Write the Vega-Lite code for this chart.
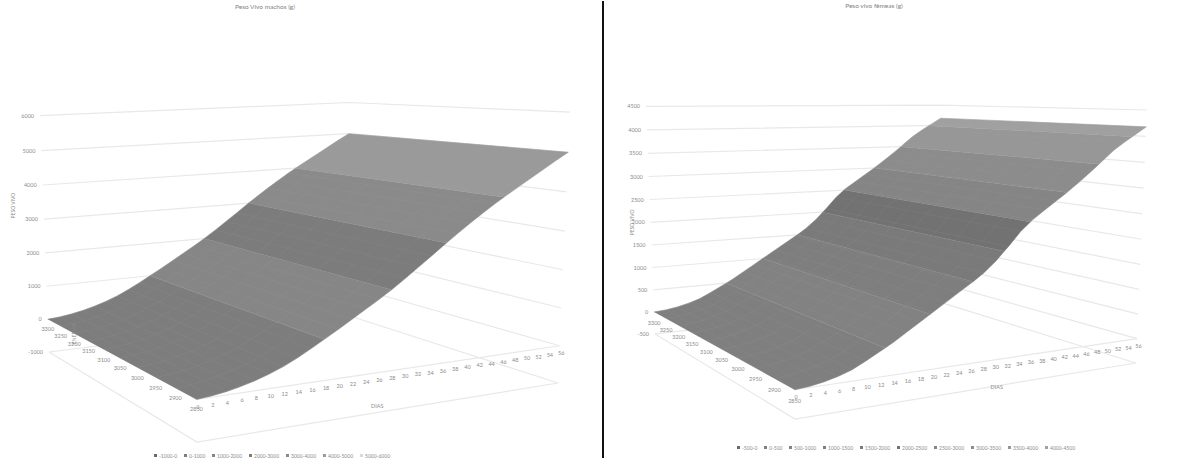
{"$schema":"https://vega.github.io/schema/vega-lite/v6.json","padding":0,"spacing":0,"background":"white","config":{"view":{"stroke":null},"text":{"font":"Lato"}},
"resolve":{"scale":{"fill":"independent","stroke":"independent"},"legend":{"fill":"independent","stroke":"independent"}},
"datasets":{
"machos":[
{"tipo":"curva","dias":0,"peso":0,"faixa":["0-1000"]},{"tipo":"curva","dias":2,"peso":30,"faixa":["0-1000"]},{"tipo":"curva","dias":4,"peso":80,"faixa":["0-1000"]},{"tipo":"curva","dias":6,"peso":150,"faixa":["0-1000"]},{"tipo":"curva","dias":8,"peso":240,"faixa":["0-1000"]},{"tipo":"curva","dias":10,"peso":350,"faixa":["0-1000"]},{"tipo":"curva","dias":12,"peso":480,"faixa":["0-1000"]},{"tipo":"curva","dias":14,"peso":640,"faixa":["0-1000"]},{"tipo":"curva","dias":16,"peso":820,"faixa":["0-1000"]},{"tipo":"curva","dias":17.9,"peso":1000,"faixa":["0-1000","1000-2000"]},{"tipo":"curva","dias":20,"peso":1200,"faixa":["1000-2000"]},{"tipo":"curva","dias":22,"peso":1400,"faixa":["1000-2000"]},{"tipo":"curva","dias":24,"peso":1600,"faixa":["1000-2000"]},{"tipo":"curva","dias":26,"peso":1800,"faixa":["1000-2000"]},{"tipo":"curva","dias":27.9,"peso":2000,"faixa":["1000-2000","2000-3000"]},{"tipo":"curva","dias":30,"peso":2240,"faixa":["2000-3000"]},{"tipo":"curva","dias":32,"peso":2480,"faixa":["2000-3000"]},{"tipo":"curva","dias":34,"peso":2720,"faixa":["2000-3000"]},{"tipo":"curva","dias":36.3,"peso":3000,"faixa":["2000-3000","3000-4000"]},{"tipo":"curva","dias":38,"peso":3200,"faixa":["3000-4000"]},{"tipo":"curva","dias":40,"peso":3430,"faixa":["3000-4000"]},{"tipo":"curva","dias":42,"peso":3650,"faixa":["3000-4000"]},{"tipo":"curva","dias":44,"peso":3860,"faixa":["3000-4000"]},{"tipo":"curva","dias":45.4,"peso":4000,"faixa":["3000-4000","4000-5000"]},{"tipo":"curva","dias":46,"peso":4060,"faixa":["4000-5000"]},{"tipo":"curva","dias":48,"peso":4250,"faixa":["4000-5000"]},{"tipo":"curva","dias":50,"peso":4440,"faixa":["4000-5000"]},{"tipo":"curva","dias":52,"peso":4630,"faixa":["4000-5000"]},{"tipo":"curva","dias":54,"peso":4820,"faixa":["4000-5000"]},{"tipo":"curva","dias":56,"peso":5000,"faixa":["4000-5000"]},
{"tipo":"grade","linha":"n-1000","ordem":1,"dias":0,"energia":3300,"peso":-1000},{"tipo":"grade","linha":"n-1000","ordem":2,"dias":56,"energia":3300,"peso":-1000},{"tipo":"grade","linha":"n-1000","ordem":3,"dias":56,"energia":2850,"peso":-1000},
{"tipo":"grade","linha":"n0","ordem":1,"dias":0,"energia":3300,"peso":0},{"tipo":"grade","linha":"n0","ordem":2,"dias":56,"energia":3300,"peso":0},{"tipo":"grade","linha":"n0","ordem":3,"dias":56,"energia":2850,"peso":0},
{"tipo":"grade","linha":"n1000","ordem":1,"dias":0,"energia":3300,"peso":1000},{"tipo":"grade","linha":"n1000","ordem":2,"dias":56,"energia":3300,"peso":1000},{"tipo":"grade","linha":"n1000","ordem":3,"dias":56,"energia":2850,"peso":1000},
{"tipo":"grade","linha":"n2000","ordem":1,"dias":0,"energia":3300,"peso":2000},{"tipo":"grade","linha":"n2000","ordem":2,"dias":56,"energia":3300,"peso":2000},{"tipo":"grade","linha":"n2000","ordem":3,"dias":56,"energia":2850,"peso":2000},
{"tipo":"grade","linha":"n3000","ordem":1,"dias":0,"energia":3300,"peso":3000},{"tipo":"grade","linha":"n3000","ordem":2,"dias":56,"energia":3300,"peso":3000},{"tipo":"grade","linha":"n3000","ordem":3,"dias":56,"energia":2850,"peso":3000},
{"tipo":"grade","linha":"n4000","ordem":1,"dias":0,"energia":3300,"peso":4000},{"tipo":"grade","linha":"n4000","ordem":2,"dias":56,"energia":3300,"peso":4000},{"tipo":"grade","linha":"n4000","ordem":3,"dias":56,"energia":2850,"peso":4000},
{"tipo":"grade","linha":"n5000","ordem":1,"dias":0,"energia":3300,"peso":5000},{"tipo":"grade","linha":"n5000","ordem":2,"dias":56,"energia":3300,"peso":5000},{"tipo":"grade","linha":"n5000","ordem":3,"dias":56,"energia":2850,"peso":5000},
{"tipo":"grade","linha":"n6000","ordem":1,"dias":0,"energia":3300,"peso":6000},{"tipo":"grade","linha":"n6000","ordem":2,"dias":56,"energia":3300,"peso":6000},{"tipo":"grade","linha":"n6000","ordem":3,"dias":56,"energia":2850,"peso":6000},
{"tipo":"grade","linha":"piso","ordem":1,"dias":0,"energia":3300,"peso":-1000},{"tipo":"grade","linha":"piso","ordem":2,"dias":0,"energia":2850,"peso":-1000},{"tipo":"grade","linha":"piso","ordem":3,"dias":56,"energia":2850,"peso":-1000},
{"tipo":"grade","linha":"base","ordem":1,"dias":0,"energia":2850,"peso":0},{"tipo":"grade","linha":"base","ordem":2,"dias":56,"energia":2850,"peso":0},
{"tipo":"dia","dias":0,"energia":2850,"peso":0},{"tipo":"dia","dias":2,"energia":2850,"peso":0},{"tipo":"dia","dias":4,"energia":2850,"peso":0},{"tipo":"dia","dias":6,"energia":2850,"peso":0},{"tipo":"dia","dias":8,"energia":2850,"peso":0},{"tipo":"dia","dias":10,"energia":2850,"peso":0},{"tipo":"dia","dias":12,"energia":2850,"peso":0},{"tipo":"dia","dias":14,"energia":2850,"peso":0},{"tipo":"dia","dias":16,"energia":2850,"peso":0},{"tipo":"dia","dias":18,"energia":2850,"peso":0},{"tipo":"dia","dias":20,"energia":2850,"peso":0},{"tipo":"dia","dias":22,"energia":2850,"peso":0},{"tipo":"dia","dias":24,"energia":2850,"peso":0},{"tipo":"dia","dias":26,"energia":2850,"peso":0},{"tipo":"dia","dias":28,"energia":2850,"peso":0},{"tipo":"dia","dias":30,"energia":2850,"peso":0},{"tipo":"dia","dias":32,"energia":2850,"peso":0},{"tipo":"dia","dias":34,"energia":2850,"peso":0},{"tipo":"dia","dias":36,"energia":2850,"peso":0},{"tipo":"dia","dias":38,"energia":2850,"peso":0},{"tipo":"dia","dias":40,"energia":2850,"peso":0},{"tipo":"dia","dias":42,"energia":2850,"peso":0},{"tipo":"dia","dias":44,"energia":2850,"peso":0},{"tipo":"dia","dias":46,"energia":2850,"peso":0},{"tipo":"dia","dias":48,"energia":2850,"peso":0},{"tipo":"dia","dias":50,"energia":2850,"peso":0},{"tipo":"dia","dias":52,"energia":2850,"peso":0},{"tipo":"dia","dias":54,"energia":2850,"peso":0},{"tipo":"dia","dias":56,"energia":2850,"peso":0},
{"tipo":"ene","dias":0,"energia":2850,"peso":0},{"tipo":"ene","dias":0,"energia":2900,"peso":0},{"tipo":"ene","dias":0,"energia":2950,"peso":0},{"tipo":"ene","dias":0,"energia":3000,"peso":0},{"tipo":"ene","dias":0,"energia":3050,"peso":0},{"tipo":"ene","dias":0,"energia":3100,"peso":0},{"tipo":"ene","dias":0,"energia":3150,"peso":0},{"tipo":"ene","dias":0,"energia":3200,"peso":0},{"tipo":"ene","dias":0,"energia":3250,"peso":0},{"tipo":"ene","dias":0,"energia":3300,"peso":0},
{"tipo":"pes","dias":0,"energia":3300,"peso":-1000},{"tipo":"pes","dias":0,"energia":3300,"peso":0},{"tipo":"pes","dias":0,"energia":3300,"peso":1000},{"tipo":"pes","dias":0,"energia":3300,"peso":2000},{"tipo":"pes","dias":0,"energia":3300,"peso":3000},{"tipo":"pes","dias":0,"energia":3300,"peso":4000},{"tipo":"pes","dias":0,"energia":3300,"peso":5000},{"tipo":"pes","dias":0,"energia":3300,"peso":6000},
{"tipo":"tituloPeso","texto":"PESO VIVO","dias":0,"energia":3300,"peso":3400},
{"tipo":"tituloDias","texto":"DIAS","dias":26,"energia":2850,"peso":-1000},
{"tipo":"tituloEne","texto":"ENERGIA","dias":0,"energia":3200,"peso":0}
],
"femeas":[
{"tipo":"curva","dias":0,"peso":0,"faixa":["0-500"]},{"tipo":"curva","dias":2,"peso":20,"faixa":["0-500"]},{"tipo":"curva","dias":4,"peso":60,"faixa":["0-500"]},{"tipo":"curva","dias":6,"peso":120,"faixa":["0-500"]},{"tipo":"curva","dias":8,"peso":200,"faixa":["0-500"]},{"tipo":"curva","dias":10,"peso":320,"faixa":["0-500"]},{"tipo":"curva","dias":12,"peso":450,"faixa":["0-500"]},{"tipo":"curva","dias":12.8,"peso":500,"faixa":["0-500","500-1000"]},{"tipo":"curva","dias":14,"peso":580,"faixa":["500-1000"]},{"tipo":"curva","dias":16,"peso":730,"faixa":["500-1000"]},{"tipo":"curva","dias":18,"peso":880,"faixa":["500-1000"]},{"tipo":"curva","dias":19.6,"peso":1000,"faixa":["500-1000","1000-1500"]},{"tipo":"curva","dias":20,"peso":1030,"faixa":["1000-1500"]},{"tipo":"curva","dias":22,"peso":1180,"faixa":["1000-1500"]},{"tipo":"curva","dias":24,"peso":1330,"faixa":["1000-1500"]},{"tipo":"curva","dias":26,"peso":1480,"faixa":["1000-1500"]},{"tipo":"curva","dias":26.3,"peso":1500,"faixa":["1000-1500","1500-2000"]},{"tipo":"curva","dias":28,"peso":1640,"faixa":["1500-2000"]},{"tipo":"curva","dias":30,"peso":1840,"faixa":["1500-2000"]},{"tipo":"curva","dias":31.3,"peso":2000,"faixa":["1500-2000","2000-2500"]},{"tipo":"curva","dias":32,"peso":2080,"faixa":["2000-2500"]},{"tipo":"curva","dias":34,"peso":2340,"faixa":["2000-2500"]},{"tipo":"curva","dias":35.6,"peso":2500,"faixa":["2000-2500","2500-3000"]},{"tipo":"curva","dias":36,"peso":2540,"faixa":["2500-3000"]},{"tipo":"curva","dias":38,"peso":2700,"faixa":["2500-3000"]},{"tipo":"curva","dias":40,"peso":2860,"faixa":["2500-3000"]},{"tipo":"curva","dias":41.8,"peso":3000,"faixa":["2500-3000","3000-3500"]},{"tipo":"curva","dias":42,"peso":3020,"faixa":["3000-3500"]},{"tipo":"curva","dias":44,"peso":3190,"faixa":["3000-3500"]},{"tipo":"curva","dias":46,"peso":3370,"faixa":["3000-3500"]},{"tipo":"curva","dias":47.4,"peso":3500,"faixa":["3000-3500","3500-4000"]},{"tipo":"curva","dias":48,"peso":3560,"faixa":["3500-4000"]},{"tipo":"curva","dias":50,"peso":3750,"faixa":["3500-4000"]},{"tipo":"curva","dias":52,"peso":3900,"faixa":["3500-4000"]},{"tipo":"curva","dias":53.4,"peso":4000,"faixa":["3500-4000","4000-4500"]},{"tipo":"curva","dias":54,"peso":4040,"faixa":["4000-4500"]},{"tipo":"curva","dias":56,"peso":4180,"faixa":["4000-4500"]},
{"tipo":"grade","linha":"n-500","ordem":1,"dias":0,"energia":3300,"peso":-500},{"tipo":"grade","linha":"n-500","ordem":2,"dias":56,"energia":3300,"peso":-500},{"tipo":"grade","linha":"n-500","ordem":3,"dias":56,"energia":2850,"peso":-500},
{"tipo":"grade","linha":"n0","ordem":1,"dias":0,"energia":3300,"peso":0},{"tipo":"grade","linha":"n0","ordem":2,"dias":56,"energia":3300,"peso":0},{"tipo":"grade","linha":"n0","ordem":3,"dias":56,"energia":2850,"peso":0},
{"tipo":"grade","linha":"n500","ordem":1,"dias":0,"energia":3300,"peso":500},{"tipo":"grade","linha":"n500","ordem":2,"dias":56,"energia":3300,"peso":500},{"tipo":"grade","linha":"n500","ordem":3,"dias":56,"energia":2850,"peso":500},
{"tipo":"grade","linha":"n1000","ordem":1,"dias":0,"energia":3300,"peso":1000},{"tipo":"grade","linha":"n1000","ordem":2,"dias":56,"energia":3300,"peso":1000},{"tipo":"grade","linha":"n1000","ordem":3,"dias":56,"energia":2850,"peso":1000},
{"tipo":"grade","linha":"n1500","ordem":1,"dias":0,"energia":3300,"peso":1500},{"tipo":"grade","linha":"n1500","ordem":2,"dias":56,"energia":3300,"peso":1500},{"tipo":"grade","linha":"n1500","ordem":3,"dias":56,"energia":2850,"peso":1500},
{"tipo":"grade","linha":"n2000","ordem":1,"dias":0,"energia":3300,"peso":2000},{"tipo":"grade","linha":"n2000","ordem":2,"dias":56,"energia":3300,"peso":2000},{"tipo":"grade","linha":"n2000","ordem":3,"dias":56,"energia":2850,"peso":2000},
{"tipo":"grade","linha":"n2500","ordem":1,"dias":0,"energia":3300,"peso":2500},{"tipo":"grade","linha":"n2500","ordem":2,"dias":56,"energia":3300,"peso":2500},{"tipo":"grade","linha":"n2500","ordem":3,"dias":56,"energia":2850,"peso":2500},
{"tipo":"grade","linha":"n3000","ordem":1,"dias":0,"energia":3300,"peso":3000},{"tipo":"grade","linha":"n3000","ordem":2,"dias":56,"energia":3300,"peso":3000},{"tipo":"grade","linha":"n3000","ordem":3,"dias":56,"energia":2850,"peso":3000},
{"tipo":"grade","linha":"n3500","ordem":1,"dias":0,"energia":3300,"peso":3500},{"tipo":"grade","linha":"n3500","ordem":2,"dias":56,"energia":3300,"peso":3500},{"tipo":"grade","linha":"n3500","ordem":3,"dias":56,"energia":2850,"peso":3500},
{"tipo":"grade","linha":"n4000","ordem":1,"dias":0,"energia":3300,"peso":4000},{"tipo":"grade","linha":"n4000","ordem":2,"dias":56,"energia":3300,"peso":4000},{"tipo":"grade","linha":"n4000","ordem":3,"dias":56,"energia":2850,"peso":4000},
{"tipo":"grade","linha":"n4500","ordem":1,"dias":0,"energia":3300,"peso":4500},{"tipo":"grade","linha":"n4500","ordem":2,"dias":56,"energia":3300,"peso":4500},{"tipo":"grade","linha":"n4500","ordem":3,"dias":56,"energia":2850,"peso":4500},
{"tipo":"grade","linha":"piso","ordem":1,"dias":0,"energia":3300,"peso":-500},{"tipo":"grade","linha":"piso","ordem":2,"dias":0,"energia":2850,"peso":-500},{"tipo":"grade","linha":"piso","ordem":3,"dias":56,"energia":2850,"peso":-500},
{"tipo":"grade","linha":"base","ordem":1,"dias":0,"energia":2850,"peso":0},{"tipo":"grade","linha":"base","ordem":2,"dias":56,"energia":2850,"peso":0},
{"tipo":"dia","dias":0,"energia":2850,"peso":0},{"tipo":"dia","dias":2,"energia":2850,"peso":0},{"tipo":"dia","dias":4,"energia":2850,"peso":0},{"tipo":"dia","dias":6,"energia":2850,"peso":0},{"tipo":"dia","dias":8,"energia":2850,"peso":0},{"tipo":"dia","dias":10,"energia":2850,"peso":0},{"tipo":"dia","dias":12,"energia":2850,"peso":0},{"tipo":"dia","dias":14,"energia":2850,"peso":0},{"tipo":"dia","dias":16,"energia":2850,"peso":0},{"tipo":"dia","dias":18,"energia":2850,"peso":0},{"tipo":"dia","dias":20,"energia":2850,"peso":0},{"tipo":"dia","dias":22,"energia":2850,"peso":0},{"tipo":"dia","dias":24,"energia":2850,"peso":0},{"tipo":"dia","dias":26,"energia":2850,"peso":0},{"tipo":"dia","dias":28,"energia":2850,"peso":0},{"tipo":"dia","dias":30,"energia":2850,"peso":0},{"tipo":"dia","dias":32,"energia":2850,"peso":0},{"tipo":"dia","dias":34,"energia":2850,"peso":0},{"tipo":"dia","dias":36,"energia":2850,"peso":0},{"tipo":"dia","dias":38,"energia":2850,"peso":0},{"tipo":"dia","dias":40,"energia":2850,"peso":0},{"tipo":"dia","dias":42,"energia":2850,"peso":0},{"tipo":"dia","dias":44,"energia":2850,"peso":0},{"tipo":"dia","dias":46,"energia":2850,"peso":0},{"tipo":"dia","dias":48,"energia":2850,"peso":0},{"tipo":"dia","dias":50,"energia":2850,"peso":0},{"tipo":"dia","dias":52,"energia":2850,"peso":0},{"tipo":"dia","dias":54,"energia":2850,"peso":0},{"tipo":"dia","dias":56,"energia":2850,"peso":0},
{"tipo":"ene","dias":0,"energia":2850,"peso":0},{"tipo":"ene","dias":0,"energia":2900,"peso":0},{"tipo":"ene","dias":0,"energia":2950,"peso":0},{"tipo":"ene","dias":0,"energia":3000,"peso":0},{"tipo":"ene","dias":0,"energia":3050,"peso":0},{"tipo":"ene","dias":0,"energia":3100,"peso":0},{"tipo":"ene","dias":0,"energia":3150,"peso":0},{"tipo":"ene","dias":0,"energia":3200,"peso":0},{"tipo":"ene","dias":0,"energia":3250,"peso":0},{"tipo":"ene","dias":0,"energia":3300,"peso":0},
{"tipo":"pes","dias":0,"energia":3300,"peso":-500},{"tipo":"pes","dias":0,"energia":3300,"peso":0},{"tipo":"pes","dias":0,"energia":3300,"peso":500},{"tipo":"pes","dias":0,"energia":3300,"peso":1000},{"tipo":"pes","dias":0,"energia":3300,"peso":1500},{"tipo":"pes","dias":0,"energia":3300,"peso":2000},{"tipo":"pes","dias":0,"energia":3300,"peso":2500},{"tipo":"pes","dias":0,"energia":3300,"peso":3000},{"tipo":"pes","dias":0,"energia":3300,"peso":3500},{"tipo":"pes","dias":0,"energia":3300,"peso":4000},{"tipo":"pes","dias":0,"energia":3300,"peso":4500},
{"tipo":"tituloPeso","texto":"PESO VIVO","dias":0,"energia":3300,"peso":2000},
{"tipo":"tituloDias","texto":"DIAS","dias":30.5,"energia":2850,"peso":-500}
]},
"hconcat":[
{"width":604,"height":458,"data":{"name":"machos"},
"title":{"text":"Peso Vivo  machos (g)","fontSize":6.5,"font":"Lato","fontWeight":"normal","color":"#7f7f7f","dx":-37,"offset":-10,"anchor":"middle"},
"transform":[
{"calculate":"datum.energia != null ? [datum.energia] : [2850,2900,2950,3000,3050,3100,3150,3200,3250,3300]","as":"energias"},
{"flatten":["energias"],"as":["ene"]},
{"calculate":"datum.dias/56","as":"a"},{"calculate":"(datum.ene-2850)/450","as":"b"},{"calculate":"(datum.peso+1000)/7000","as":"c"},
{"calculate":"1+0.1505*datum.a+0.318*datum.b-0.0485*datum.c","as":"w"},
{"calculate":"(197+445*datum.a-132.4*datum.b-13.8*datum.c)/datum.w","as":"px"},
{"calculate":"(441-1.5*datum.a+21.6*datum.b-317*datum.c)/datum.w","as":"py"}],
"encoding":{"x":{"field":"px","type":"quantitative","scale":{"domain":[0,604],"nice":false,"zero":false},"axis":null},"y":{"field":"py","type":"quantitative","scale":{"domain":[458,0],"nice":false,"zero":false},"axis":null}},
"layer":[
{"transform":[{"filter":"datum.tipo=='grade'"}],"mark":{"type":"line","stroke":"#e8e8e8","strokeWidth":1.2},"encoding":{"detail":{"field":"linha"},"order":{"field":"ordem"}}},
{"transform":[{"filter":"datum.tipo=='curva' && (datum.ene==2850 || datum.ene==3300)"},{"flatten":["faixa"]},{"calculate":"datum.ene==2850 ? datum.dias : 1000-datum.dias","as":"ordem"}],
"mark":{"type":"line","strokeWidth":0.6},
"encoding":{"order":{"field":"ordem"},
"fill":{"field":"faixa","type":"nominal","scale":{"domain":["-1000-0","0-1000","1000-2000","2000-3000","3000-4000","4000-5000","5000-6000"],"range":["#6a6a6a","#7d7d7d","#868686","#7c7c7c","#8a8a8a","#9a9a9a","#d9d9d9"]},
"legend":{"orient":"none","legendX":153,"legendY":452,"direction":"horizontal","columns":7,"title":null,"symbolType":"square","symbolSize":9,"labelFontSize":5,"labelFont":"Lato","labelColor":"#8c8c8c","columnPadding":5,"labelOffset":1,"gridAlign":"none","symbolStrokeWidth":0}},
"stroke":{"field":"faixa","type":"nominal","scale":{"domain":["-1000-0","0-1000","1000-2000","2000-3000","3000-4000","4000-5000","5000-6000"],"range":["#6a6a6a","#7d7d7d","#868686","#7c7c7c","#8a8a8a","#9a9a9a","#d9d9d9"]},"legend":null}}},
{"transform":[{"filter":"datum.tipo=='curva' && (datum.ene==2850 || datum.ene==3300)"}],"mark":{"type":"line","stroke":"#aaaaaa","strokeWidth":0.4,"opacity":0.25},"encoding":{"detail":{"field":"dias"},"order":{"field":"ene"}}},
{"transform":[{"filter":"datum.tipo=='curva'"}],"mark":{"type":"line","stroke":"#aaaaaa","strokeWidth":0.4,"opacity":0.25},"encoding":{"detail":{"field":"ene"},"order":{"field":"dias"}}},
{"transform":[{"filter":"datum.tipo=='dia'"}],"mark":{"type":"text","fontSize":5.5,"color":"#8c8c8c","dx":1.5,"dy":7.5},"encoding":{"text":{"field":"dias","type":"nominal"}}},
{"transform":[{"filter":"datum.tipo=='ene'"}],"mark":{"type":"text","fontSize":5.5,"color":"#8c8c8c","dy":10},"encoding":{"text":{"field":"energia","type":"nominal"}}},
{"transform":[{"filter":"datum.tipo=='pes'"}],"mark":{"type":"text","fontSize":5.5,"color":"#8c8c8c","align":"right","dx":-6},"encoding":{"text":{"field":"peso","type":"nominal"}}},
{"transform":[{"filter":"datum.tipo=='tituloPeso'"}],"mark":{"type":"text","fontSize":5,"color":"#8c8c8c","angle":270,"dy":-30},"encoding":{"text":{"field":"texto"}}},
{"transform":[{"filter":"datum.tipo=='tituloDias'"}],"mark":{"type":"text","fontSize":5.5,"color":"#8c8c8c","dy":-7},"encoding":{"text":{"field":"texto"}}},
{"transform":[{"filter":"datum.tipo=='tituloEne'"}],"mark":{"type":"text","fontSize":5,"color":"#8c8c8c","angle":270},"encoding":{"text":{"field":"texto"}}},
{"mark":{"type":"rule","color":"#111111","strokeWidth":2},"encoding":{"x":{"datum":603},"y":{"datum":458},"y2":{"datum":0}}}
]},
{"width":596,"height":458,"data":{"name":"femeas"},
"title":{"text":"Peso vivo  fêmeas (g)","fontSize":6.5,"font":"Lato","fontWeight":"normal","color":"#7f7f7f","dx":-28,"offset":-8,"anchor":"middle"},
"transform":[
{"calculate":"datum.energia != null ? [datum.energia] : [2850,2900,2950,3000,3050,3100,3150,3200,3250,3300]","as":"energias"},
{"flatten":["energias"],"as":["ene"]},
{"calculate":"datum.dias/56","as":"a"},{"calculate":"(datum.ene-2850)/450","as":"b"},{"calculate":"(datum.peso+500)/5000","as":"c"},
{"calculate":"1+0.2113*datum.a+0.3473*datum.b-0.0509*datum.c","as":"w"},
{"calculate":"(795+581*datum.a+87.5*datum.b-45*datum.c)/datum.w","as":"px"},
{"calculate":"(418+20.5*datum.a+30.6*datum.b-312*datum.c)/datum.w","as":"py"}],
"encoding":{"x":{"field":"px","type":"quantitative","scale":{"domain":[604,1200],"nice":false,"zero":false},"axis":null},"y":{"field":"py","type":"quantitative","scale":{"domain":[458,0],"nice":false,"zero":false},"axis":null}},
"layer":[
{"transform":[{"filter":"datum.tipo=='grade'"}],"mark":{"type":"line","stroke":"#e8e8e8","strokeWidth":1.2},"encoding":{"detail":{"field":"linha"},"order":{"field":"ordem"}}},
{"transform":[{"filter":"datum.tipo=='curva' && (datum.ene==2850 || datum.ene==3300)"},{"flatten":["faixa"]},{"calculate":"datum.ene==2850 ? datum.dias : 1000-datum.dias","as":"ordem"}],
"mark":{"type":"line","strokeWidth":0.6},
"encoding":{"order":{"field":"ordem"},
"fill":{"field":"faixa","type":"nominal","scale":{"domain":["-500-0","0-500","500-1000","1000-1500","1500-2000","2000-2500","2500-3000","3000-3500","3500-4000","4000-4500"],"range":["#6a6a6a","#7f7f7f","#828282","#7e7e7e","#7a7a7a","#727272","#858585","#8c8c8c","#979797","#a0a0a0"]},
"legend":{"orient":"none","legendX":132,"legendY":444,"direction":"horizontal","columns":10,"title":null,"symbolType":"square","symbolSize":9,"labelFontSize":5,"labelFont":"Lato","labelColor":"#8c8c8c","columnPadding":5,"labelOffset":1,"gridAlign":"none","symbolStrokeWidth":0}},
"stroke":{"field":"faixa","type":"nominal","scale":{"domain":["-500-0","0-500","500-1000","1000-1500","1500-2000","2000-2500","2500-3000","3000-3500","3500-4000","4000-4500"],"range":["#6a6a6a","#7f7f7f","#828282","#7e7e7e","#7a7a7a","#727272","#858585","#8c8c8c","#979797","#a0a0a0"]},"legend":null}}},
{"transform":[{"filter":"datum.tipo=='curva' && (datum.ene==2850 || datum.ene==3300)"}],"mark":{"type":"line","stroke":"#aaaaaa","strokeWidth":0.4,"opacity":0.25},"encoding":{"detail":{"field":"dias"},"order":{"field":"ene"}}},
{"transform":[{"filter":"datum.tipo=='curva'"}],"mark":{"type":"line","stroke":"#aaaaaa","strokeWidth":0.4,"opacity":0.25},"encoding":{"detail":{"field":"ene"},"order":{"field":"dias"}}},
{"transform":[{"filter":"datum.tipo=='dia'"}],"mark":{"type":"text","fontSize":5.5,"color":"#8c8c8c","dx":1.5,"dy":7.5},"encoding":{"text":{"field":"dias","type":"nominal"}}},
{"transform":[{"filter":"datum.tipo=='ene'"}],"mark":{"type":"text","fontSize":5.5,"color":"#8c8c8c","dy":11},"encoding":{"text":{"field":"energia","type":"nominal"}}},
{"transform":[{"filter":"datum.tipo=='pes'"}],"mark":{"type":"text","fontSize":5.5,"color":"#8c8c8c","align":"right","dx":-6},"encoding":{"text":{"field":"peso","type":"nominal"}}},
{"transform":[{"filter":"datum.tipo=='tituloPeso'"}],"mark":{"type":"text","fontSize":5,"color":"#8c8c8c","angle":270,"dy":-19},"encoding":{"text":{"field":"texto"}}},
{"transform":[{"filter":"datum.tipo=='tituloDias'"}],"mark":{"type":"text","fontSize":5.5,"color":"#8c8c8c","dy":1},"encoding":{"text":{"field":"texto"}}}
]}
]}
